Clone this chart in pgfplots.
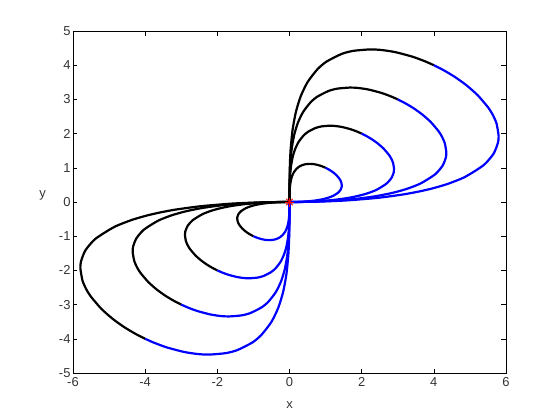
\documentclass[border=0pt]{standalone}
\usepackage{fontspec}
\setmainfont{Liberation Sans}
\usepackage{pgfplots}
\pgfplotsset{compat=1.18}
\begin{document}
\begin{tikzpicture}
\useasboundingbox (-73bp,-47bp) rectangle (487bp,373bp);
\begin{axis}[
  scale only axis, width=433bp, height=342bp,
  at={(0,0)}, anchor=south west,
  xmin=-6, xmax=6, ymin=-5, ymax=5,
  xtick={-6,-4,...,6}, ytick={-5,-4,...,5},
  tick align=inside, tick pos=both,
  major tick length=4.5bp,
  every tick/.style={black, line width=0.5bp},
  axis line style={line width=0.5bp},
  /pgf/number format/assume math mode=true,
  tick label style={font=\fontsize{13}{15}\selectfont, text=black!80},
  xticklabel style={yshift=-1bp},
  yticklabel style={xshift=1bp},
  label style={font=\fontsize{13}{15}\selectfont, text=black!80},
  xlabel={x}, ylabel={y},
  xlabel style={at={(axis description cs:0.5,-0.094)}, anchor=center},
  ylabel style={at={(axis description cs:-0.07,0.52)}, anchor=center, rotate=-90},
  curve/.style={line width=2.2bp, smooth, tension=0.4},
  clip=false,
]
% ---- first quadrant, black (backward) ----
\addplot[black, curve] coordinates {(1,1) (0.9361,1.0297) (0.8502,1.0628) (0.7307,1.0961) (0.6351,1.1113) (0.5577,1.1154) (0.4419,1.1049) (0.3607,1.0822) (0.2566,1.0264) (0.1942,0.9711) (0.1252,0.8766) (0.0771,0.7714) (0.0437,0.6555) (0.0210,0.5245) (0.0076,0.3801) (0.0027,0.2722) (0.0005,0.1584) (0.0001,0.0870) (0,0.0276) (0,0)};
\addplot[black, curve] coordinates {(2,2) (1.8722,2.0594) (1.7005,2.1256) (1.4614,2.1921) (1.2701,2.2227) (1.1154,2.2308) (0.8839,2.2097) (0.7215,2.1644) (0.5132,2.0528) (0.3884,1.9422) (0.2504,1.7531) (0.1543,1.5427) (0.0874,1.3110) (0.0420,1.0490) (0.0152,0.7603) (0.0054,0.5443) (0.0011,0.3169) (0.0002,0.1741) (0,0.0551) (0,0)};
\addplot[black, curve] coordinates {(3,3) (2.8083,3.0891) (2.5507,3.1884) (2.1921,3.2882) (1.9052,3.3340) (1.6731,3.3463) (1.3258,3.3146) (1.0822,3.2466) (0.7698,3.0792) (0.5827,2.9133) (0.3757,2.6297) (0.2314,2.3141) (0.1311,1.9665) (0.0629,1.5735) (0.0228,1.1404) (0.0082,0.8165) (0.0016,0.4753) (0.0003,0.2611) (0,0.0827) (0,0)};
\addplot[black, curve] coordinates {(4,4) (3.7444,4.1188) (3.4010,4.2512) (2.9228,4.3842) (2.5402,4.4454) (2.2308,4.4617) (1.7678,4.4194) (1.4429,4.3288) (1.0264,4.1056) (0.7769,3.8844) (0.5009,3.5062) (0.3085,3.0854) (0.1748,2.6220) (0.0839,2.0980) (0.0304,1.5206) (0.0109,1.0886) (0.0021,0.6338) (0.0004,0.3481) (0,0.1102) (0,0)};
% ---- first quadrant, blue (forward) ----
\addplot[blue, curve] coordinates {(1,1) (1.0694,0.9625) (1.1441,0.9153) (1.2229,0.8560) (1.3029,0.7817) (1.3778,0.6889) (1.4097,0.6344) (1.4344,0.5738) (1.4490,0.4830) (1.4442,0.4333) (1.4142,0.3536) (1.3444,0.2689) (1.2135,0.1820) (1.0925,0.1311) (0.9882,0.0988) (0.8949,0.0761) (0.7864,0.0551) (0.6142,0.0307) (0.4043,0.0121) (0.2172,0.0033) (0.0760,0.0004) (0,0)};
\addplot[blue, curve] coordinates {(2,2) (2.1389,1.9250) (2.2882,1.8305) (2.4457,1.7120) (2.6057,1.5634) (2.7557,1.3778) (2.8194,1.2688) (2.8689,1.1475) (2.8979,0.9660) (2.8884,0.8665) (2.8284,0.7071) (2.6887,0.5377) (2.4270,0.3640) (2.1850,0.2622) (1.9764,0.1976) (1.7897,0.1521) (1.5728,0.1101) (1.2284,0.0614) (0.8085,0.0243) (0.4343,0.0065) (0.1521,0.0008) (0,0)};
\addplot[blue, curve] coordinates {(3,3) (3.2083,2.8875) (3.4323,2.7458) (3.6686,2.5680) (3.9086,2.3451) (4.1335,2.0668) (4.2292,1.9031) (4.3033,1.7213) (4.3469,1.4490) (4.3326,1.2998) (4.2426,1.0607) (4.0331,0.8066) (3.6405,0.5461) (3.2776,0.3933) (2.9646,0.2965) (2.6846,0.2282) (2.3592,0.1652) (1.8425,0.0921) (1.2128,0.0364) (0.6515,0.0098) (0.2281,0.0011) (0,0)};
\addplot[blue, curve] coordinates {(4,4) (4.2777,3.8499) (4.5764,3.6611) (4.8914,3.4240) (5.2114,3.1268) (5.5114,2.7557) (5.6389,2.5375) (5.7377,2.2951) (5.7959,1.9320) (5.7768,1.7330) (5.6568,1.4142) (5.3774,1.0755) (4.8540,0.7281) (4.3701,0.5244) (3.9528,0.3953) (3.5795,0.3043) (3.1456,0.2202) (2.4567,0.1228) (1.6170,0.0485) (0.8687,0.0130) (0.3041,0.0015) (0,0)};
% ---- third quadrant, black ----
\addplot[black, curve] coordinates {(-1,-1) (-1.0694,-0.9625) (-1.1441,-0.9153) (-1.2229,-0.8560) (-1.3029,-0.7817) (-1.3778,-0.6889) (-1.4097,-0.6344) (-1.4344,-0.5738) (-1.4490,-0.4830) (-1.4442,-0.4333) (-1.4142,-0.3536) (-1.3444,-0.2689) (-1.2135,-0.1820) (-1.0925,-0.1311) (-0.9882,-0.0988) (-0.8949,-0.0761) (-0.7864,-0.0551) (-0.6142,-0.0307) (-0.4043,-0.0121) (-0.2172,-0.0033) (-0.0760,-0.0004) (0,0)};
\addplot[black, curve] coordinates {(-2,-2) (-2.1389,-1.9250) (-2.2882,-1.8305) (-2.4457,-1.7120) (-2.6057,-1.5634) (-2.7557,-1.3778) (-2.8194,-1.2688) (-2.8689,-1.1475) (-2.8979,-0.9660) (-2.8884,-0.8665) (-2.8284,-0.7071) (-2.6887,-0.5377) (-2.4270,-0.3640) (-2.1850,-0.2622) (-1.9764,-0.1976) (-1.7897,-0.1521) (-1.5728,-0.1101) (-1.2284,-0.0614) (-0.8085,-0.0243) (-0.4343,-0.0065) (-0.1521,-0.0008) (0,0)};
\addplot[black, curve] coordinates {(-3,-3) (-3.2083,-2.8875) (-3.4323,-2.7458) (-3.6686,-2.5680) (-3.9086,-2.3451) (-4.1335,-2.0668) (-4.2292,-1.9031) (-4.3033,-1.7213) (-4.3469,-1.4490) (-4.3326,-1.2998) (-4.2426,-1.0607) (-4.0331,-0.8066) (-3.6405,-0.5461) (-3.2776,-0.3933) (-2.9646,-0.2965) (-2.6846,-0.2282) (-2.3592,-0.1652) (-1.8425,-0.0921) (-1.2128,-0.0364) (-0.6515,-0.0098) (-0.2281,-0.0011) (0,0)};
\addplot[black, curve] coordinates {(-4,-4) (-4.2777,-3.8499) (-4.5764,-3.6611) (-4.8914,-3.4240) (-5.2114,-3.1268) (-5.5114,-2.7557) (-5.6389,-2.5375) (-5.7377,-2.2951) (-5.7959,-1.9320) (-5.7768,-1.7330) (-5.6568,-1.4142) (-5.3774,-1.0755) (-4.8540,-0.7281) (-4.3701,-0.5244) (-3.9528,-0.3953) (-3.5795,-0.3043) (-3.1456,-0.2202) (-2.4567,-0.1228) (-1.6170,-0.0485) (-0.8687,-0.0130) (-0.3041,-0.0015) (0,0)};
% ---- third quadrant, blue ----
\addplot[blue, curve] coordinates {(-1,-1) (-0.9361,-1.0297) (-0.8502,-1.0628) (-0.7307,-1.0961) (-0.6351,-1.1113) (-0.5577,-1.1154) (-0.4419,-1.1049) (-0.3607,-1.0822) (-0.2566,-1.0264) (-0.1942,-0.9711) (-0.1252,-0.8766) (-0.0771,-0.7714) (-0.0437,-0.6555) (-0.0210,-0.5245) (-0.0076,-0.3801) (-0.0027,-0.2722) (-0.0005,-0.1584) (-0.0001,-0.0870) (0,-0.0276) (0,0)};
\addplot[blue, curve] coordinates {(-2,-2) (-1.8722,-2.0594) (-1.7005,-2.1256) (-1.4614,-2.1921) (-1.2701,-2.2227) (-1.1154,-2.2308) (-0.8839,-2.2097) (-0.7215,-2.1644) (-0.5132,-2.0528) (-0.3884,-1.9422) (-0.2504,-1.7531) (-0.1543,-1.5427) (-0.0874,-1.3110) (-0.0420,-1.0490) (-0.0152,-0.7603) (-0.0054,-0.5443) (-0.0011,-0.3169) (-0.0002,-0.1741) (0,-0.0551) (0,0)};
\addplot[blue, curve] coordinates {(-3,-3) (-2.8083,-3.0891) (-2.5507,-3.1884) (-2.1921,-3.2882) (-1.9052,-3.3340) (-1.6731,-3.3463) (-1.3258,-3.3146) (-1.0822,-3.2466) (-0.7698,-3.0792) (-0.5827,-2.9133) (-0.3757,-2.6297) (-0.2314,-2.3141) (-0.1311,-1.9665) (-0.0629,-1.5735) (-0.0228,-1.1404) (-0.0082,-0.8165) (-0.0016,-0.4753) (-0.0003,-0.2611) (0,-0.0827) (0,0)};
\addplot[blue, curve] coordinates {(-4,-4) (-3.7444,-4.1188) (-3.4010,-4.2512) (-2.9228,-4.3842) (-2.5402,-4.4454) (-2.2308,-4.4617) (-1.7678,-4.4194) (-1.4429,-4.3288) (-1.0264,-4.1056) (-0.7769,-3.8844) (-0.5009,-3.5062) (-0.3085,-3.0854) (-0.1748,-2.6220) (-0.0839,-2.0980) (-0.0304,-1.5206) (-0.0109,-1.0886) (-0.0021,-0.6338) (-0.0004,-0.3481) (0,-0.1102) (0,0)};
% ---- equilibrium (MATLAB '*' = plus and cross) ----
\addplot[only marks, mark=+, mark size=4.5bp, draw=red, mark options={draw=red, line width=1bp}] coordinates {(0,0)};
\addplot[only marks, mark=x, mark size=4.5bp, draw=red, mark options={draw=red, line width=1bp}] coordinates {(0,0)};
\end{axis}
\end{tikzpicture}
\end{document}
